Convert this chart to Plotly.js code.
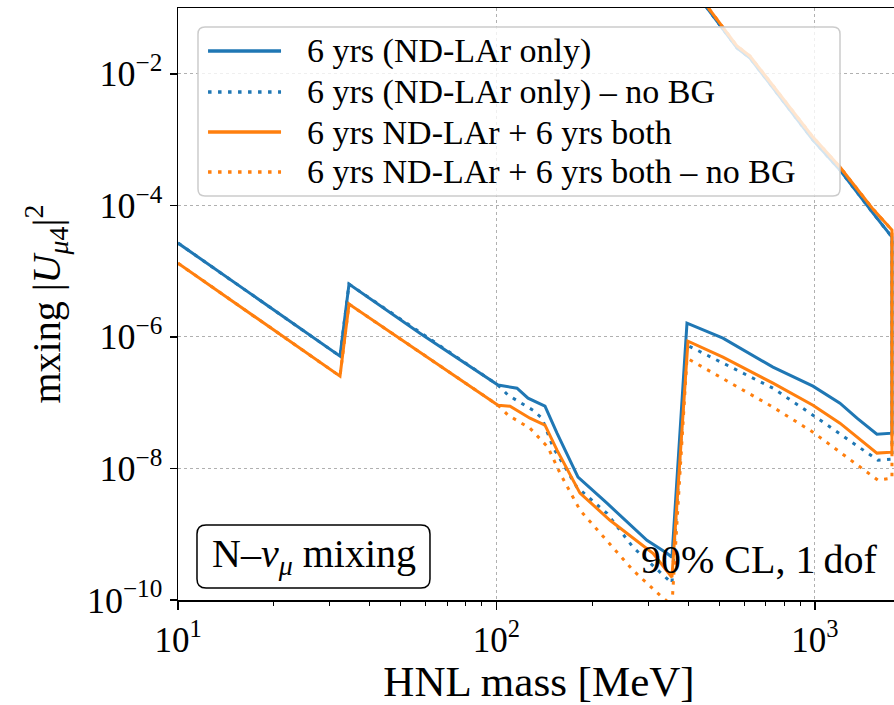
<!DOCTYPE html>
<html><head><meta charset="utf-8">
<script src="https://cdn.plot.ly/plotly-3.0.1.min.js"></script>
<style>html,body{margin:0;padding:0;overflow:hidden;background:#fff}</style>
</head><body><div id="chart" style="width:900px;height:705px"></div>
<script>
// ---- data (HNL mass in MeV, mixing |U_mu4|^2) ----
// lower branch of each sensitivity contour
const massBlue = [10, 32.26, 34.43, 57.5, 101.1, 116.0, 125.6, 142.0, 154.9, 180.3, 222.3, 296.8, 343.0, 355.6, 396.4, 514.1, 738.2, 985.6, 1198, 1355, 1565, 1745];
const mixBlue  = [2.67e-5, 5.09e-7, 6.34e-6, 1.14e-6, 1.85e-7, 1.66e-7, 1.17e-7, 8.85e-8, 3.44e-8, 7.36e-9, 2.96e-9, 8.1e-10, 5.14e-10, 4.47e-10, 1.62e-6, 9.57e-7, 3.47e-7, 1.78e-7, 9.82e-8, 5.81e-8, 3.32e-8, 3.44e-8];

const massBlueNoBG = [10, 32.26, 34.43, 101.1, 108.7, 130.2, 138.9, 150.5, 178.9, 222.3, 268.3, 355.6, 396.4, 514.1, 738.2, 985.6, 1577, 1745];
const mixBlueNoBG  = [2.67e-5, 5.09e-7, 6.34e-6, 1.85e-7, 1.30e-7, 7.69e-8, 5.81e-8, 2.10e-8, 5.19e-9, 2.08e-9, 6.34e-10, 1.80e-10, 7.50e-7, 4.0e-7, 1.66e-7, 6.46e-8, 1.33e-8, 1.38e-8];

const massOrange = [10, 32.26, 34.43, 101.1, 110.3, 127.4, 142.0, 154.9, 182.9, 227.2, 310.0, 355.6, 399.3, 514.1, 738.2, 985.6, 1198, 1565, 1745];
const mixOrange  = [1.32e-5, 2.53e-7, 3.15e-6, 9.16e-8, 8.85e-8, 5.81e-8, 4.55e-8, 1.90e-8, 4.21e-9, 1.63e-9, 5.14e-10, 2.22e-10, 8.61e-7, 4.92e-7, 1.98e-7, 9.16e-8, 4.88e-8, 1.71e-8, 1.77e-8];

const massOrangeNoBG = [10, 32.26, 34.43, 101.1, 108.7, 127.4, 145.1, 158.3, 182.9, 222.3, 268.3, 326.1, 355.6, 396.4, 738.2, 985.6, 1577, 1745];
const mixOrangeNoBG  = [1.32e-5, 2.53e-7, 3.15e-6, 9.16e-8, 6.46e-8, 4.09e-8, 2.10e-8, 8.47e-9, 2.32e-9, 8.1e-10, 2.83e-10, 1.18e-10, 8.3e-11, 4.75e-7, 8.55e-8, 3.56e-8, 6.62e-9, 7.11e-9];

// upper branch (from the right end back to the top of the plot)
const upperMass   = [1745, 1521, 1198, 985.6, 776.6, 625.2, 569.1, 503.1, 458.1, 405];
const upperBlue   = [3.29e-5, 7.62e-5, 3.44e-4, 9.83e-4, 4.43e-3, 1.736e-2, 2.464e-2, 5.51e-2, 0.1, 0.27];
const upperOrange = [4.21e-5, 8.77e-5, 3.82e-4, 1.09e-3, 4.75e-3, 1.86e-2, 2.64e-2, 5.91e-2, 0.107, 0.28];

const seriesNames = [
  '6 yrs (ND-LAr only)',
  '6 yrs (ND-LAr only) – no BG',
  '6 yrs ND-LAr + 6 yrs both',
  '6 yrs ND-LAr + 6 yrs both – no BG'
];
const xTickVals = [10, 100, 1000];
const xTickText = ['10<sup>1</sup>', '10<sup>2</sup>', '10<sup>3</sup>'];
const xMinorVals = [20,30,40,50,60,70,80,90,200,300,400,500,600,700,800,900,2000];
const yTickVals = [1e-2, 1e-4, 1e-6, 1e-8, 1e-10];
const yTickText = ['10<sup>−2</sup>', '10<sup>−4</sup>', '10<sup>−6</sup>', '10<sup>−8</sup>', '10<sup>−10</sup>'];

// ---- styling ----
const BLUE = '#1f77b4', ORANGE = '#ff7f0e';
const FONT = "'Liberation Serif', 'DejaVu Serif', serif";
const DOT = '3.5px,6.5px';
const seriesColors = [BLUE, BLUE, ORANGE, ORANGE];
const seriesDotted = [false, true, false, true];

function contour(mass, mix, upM, upV, i) {
  return {
    x: mass.concat(upM), y: mix.concat(upV), name: seriesNames[i],
    type: 'scatter', mode: 'lines', showlegend: false,
    line: {color: seriesColors[i], width: 3, dash: seriesDotted[i] ? DOT : 'solid'},
    hoverinfo: 'skip', cliponaxis: true
  };
}
const traces = [
  contour(massBlue, mixBlue, upperMass, upperBlue, 0),
  contour(massBlueNoBG, mixBlueNoBG, upperMass, upperBlue, 1),
  contour(massOrange, mixOrange, upperMass, upperOrange, 2),
  contour(massOrangeNoBG, mixOrangeNoBG, upperMass, upperOrange, 3)
];

function roundRect(x0, y0, x1, y1, rx, ry) {
  return `M${x0+rx},${y0} L${x1-rx},${y0} Q${x1},${y0} ${x1},${y0+ry} L${x1},${y1-ry} Q${x1},${y1} ${x1-rx},${y1} ` +
         `L${x0+rx},${y1} Q${x0},${y1} ${x0},${y1-ry} L${x0},${y0+ry} Q${x0},${y0} ${x0+rx},${y0} Z`;
}

// legend box (drawn as layout items, paper coordinates)
const legendRows = [0.9274, 0.8581, 0.7905, 0.7230];
const shapes = [
  {type: 'path', xref: 'paper', yref: 'paper', layer: 'above',
   path: roundRect(0.0277, 0.6824, 0.9169, 0.9679, 0.0097, 0.0118),
   fillcolor: 'rgba(255,255,255,0.8)', line: {color: '#cccccc', width: 1.5}},
  {type: 'path', xref: 'paper', yref: 'paper', layer: 'above',
   path: roundRect(0.0263, 0.0203, 0.349, 0.1267, 0.0125, 0.0152),
   fillcolor: 'rgba(255,255,255,0.8)', line: {color: '#000', width: 1.5}}
];
const annotations = [
  {xref: 'paper', yref: 'paper', x: 0.1877, y: 0.0735, xanchor: 'center', yanchor: 'middle',
   text: 'N–<i>ν</i><sub><i>μ</i></sub> mixing', showarrow: false,
   font: {family: FONT, size: 40, color: '#000'}},
  {xref: 'paper', yref: 'paper', x: 0.8047, y: 0.0676, xanchor: 'center', yanchor: 'middle',
   text: '90% CL, 1\u2009dof', showarrow: false,
   font: {family: FONT, size: 40, color: '#000'}}
];
seriesNames.forEach((nm, i) => {
  shapes.push({type: 'line', xref: 'paper', yref: 'paper', layer: 'above',
    x0: 0.0416, x1: 0.1427, y0: legendRows[i], y1: legendRows[i],
    line: {color: seriesColors[i], width: 3.5, dash: seriesDotted[i] ? DOT : 'solid'}});
  annotations.push({xref: 'paper', yref: 'paper', x: 0.1759, y: legendRows[i],
    xanchor: 'left', yanchor: 'middle', text: nm, showarrow: false,
    font: {family: FONT, size: 34, color: '#000'}});
});

const layout = {
  width: 900, height: 705,
  margin: {l: 178, r: 0, t: 8, b: 105},
  paper_bgcolor: '#fff', plot_bgcolor: '#fff',
  font: {family: FONT, color: '#000'},
  showlegend: false,
  xaxis: {
    type: 'log', range: [1, 3.267],
    tickmode: 'array', tickvals: xTickVals, ticktext: xTickText,
    ticks: 'outside', ticklen: 8, tickwidth: 1.5, tickcolor: '#000',
    tickfont: {family: FONT, size: 35, color: '#000'},
    showline: true, linecolor: '#000', linewidth: 1.5, mirror: true,
    showgrid: true, gridcolor: '#b0b0b0', gridwidth: 1, griddash: 'dot',
    zeroline: false,
    minor: {tickmode: 'array', tickvals: xMinorVals, ticks: 'outside', ticklen: 4, tickwidth: 1, tickcolor: '#000', showgrid: false},
    title: {text: 'HNL mass [MeV]', font: {family: FONT, size: 43, color: '#000'}, standoff: 15}
  },
  yaxis: {
    type: 'log', range: [-10, -1],
    tickmode: 'array', tickvals: yTickVals, ticktext: yTickText,
    ticks: 'outside', ticklen: 7, tickwidth: 1.5, tickcolor: '#000',
    tickfont: {family: FONT, size: 36, color: '#000'},
    showline: true, linecolor: '#000', linewidth: 1.5, mirror: true,
    showgrid: true, gridcolor: '#b0b0b0', gridwidth: 1, griddash: 'dot',
    zeroline: false,
    title: {text: 'mxing |<i>U</i><sub><i>μ</i>4</sub>|<sup>2</sup>', font: {family: FONT, size: 40, color: '#000'}, standoff: 14}
  },
  shapes: shapes,
  annotations: annotations
};

Plotly.newPlot('chart', traces, layout, {displayModeBar: false, staticPlot: true});
</script></body></html>
